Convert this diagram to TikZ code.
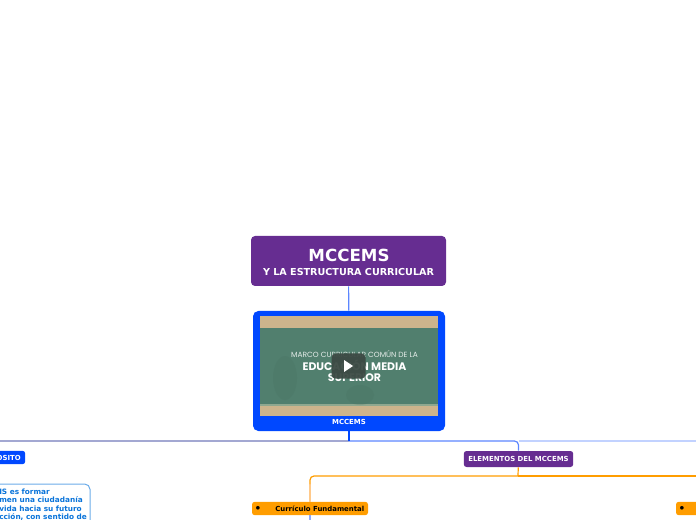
\documentclass[tikz,border=0pt]{standalone}
\usepackage{fontspec}
\setmainfont{DejaVu Sans}
\newfontfamily\videofont{Poppins}
\usetikzlibrary{arrows}
\definecolor{mapurple}{HTML}{662D91}
\definecolor{mablue}{HTML}{0048FF}
\definecolor{maorange}{HTML}{FF9D00}
\definecolor{matan}{HTML}{CDB48C}
\definecolor{magreen}{HTML}{517F6E}
\definecolor{mastrip}{HTML}{8FA88F}
\definecolor{madark}{HTML}{3C4A44}
\definecolor{maline}{HTML}{5C86FF}
\definecolor{malineb}{HTML}{C2D2FF}
\definecolor{malinec}{HTML}{A3A8D2}
\definecolor{malined}{HTML}{FFC98A}
\definecolor{mabox}{HTML}{0A74DA}
\tikzset{
  pill/.style={rounded corners=2pt,inner sep=0pt,font=\bfseries},
  conn/.style={line width=0.9pt},
}
\begin{document}
\begin{tikzpicture}[x=0.75pt,y=-0.75pt]
        \useasboundingbox (0,0) rectangle (696,520);
        \clip (0,0) rectangle (696,520);

        \node[pill,fill=mapurple,minimum width=146.25pt,minimum height=37.5pt,rounded corners=3pt] (T) at (348.5,261) {};
        \node[text=white,font=\bfseries\fontsize{12.5}{15}\selectfont] (T1) at (349,255) {MCCEMS};
        \node[text=white,font=\bfseries\fontsize{7.2}{9}\selectfont] (T2) at (348.5,272.5) {Y LA ESTRUCTURA CURRICULAR};

        \node[pill,fill=mablue,minimum width=144pt,minimum height=90pt,rounded corners=4pt] (V) at (349,371) {};
        \fill[matan] (260,316) rectangle (437.5,416);
        \fill[magreen] (260,328) rectangle (437.5,404);
        \fill[mastrip] (260,404) rectangle (437.5,406);
        \fill[magreen!85!black,opacity=.2] (285,378) ellipse (12 and 22);
        \fill[magreen!85!black,opacity=.2] (360,395) ellipse (14 and 10);
        \node[text=white!85!magreen,font=\videofont\fontsize{5.6}{6}\selectfont] (V1) at (354.5,354) {MARCO CURRICULAR COMÚN DE LA};
        \node[text=white,font=\videofont\bfseries\fontsize{8.2}{9}\selectfont] (V2) at (354.5,365.5) {EDUCACIÓN MEDIA};
        \node[text=white,font=\videofont\bfseries\fontsize{8.2}{9}\selectfont] (V3) at (354.5,378) {SUPERIOR};
        \node[pill,fill=madark,opacity=.95,minimum width=25.5pt,minimum height=19pt,rounded corners=3pt] (P) at (348.5,366) {};
        \fill[white] (344,360) -- (353,366) -- (344,372) -- cycle;
        \node[text=white,font=\bfseries\fontsize{5.2}{6}\selectfont] (V4) at (349,421.5) {MCCEMS};

        \node[pill,fill=mablue,minimum width=40pt,minimum height=10pt] (A) at (-1.5,457.5) {};
        \node[anchor=east,inner sep=0pt,text=white,font=\bfseries\fontsize{5.2}{6}\selectfont] (A1) at (21,457.5) {OSITO};

        \node[draw=mabox!60!white,fill=white,line width=0.75pt,rounded corners=4pt,minimum width=97.5pt,minimum height=45pt] (B) at (25,514) {};
        \node[anchor=north west,inner sep=0pt,align=left,text=mabox,font=\bfseries\fontsize{5.5}{6.4}\selectfont] (B1) at (-1,488.5) {IS es formar\\men una ciudadanía\\vida hacia su futuro\\cción, con sentido de};

        \node[pill,fill=mapurple,minimum width=82pt,minimum height=12pt] (E) at (518.5,459) {};
        \node[text=white,font=\bfseries\fontsize{5.2}{6}\selectfont] (E1) at (518.5,459) {ELEMENTOS DEL MCCEMS};

        \node[pill,fill=maorange,minimum width=87pt,minimum height=10pt] (C) at (310,508.5) {};
        \node[font=\fontsize{3.6}{4}\selectfont] (C0) at (258,508.5) {●};
        \node[anchor=west,inner sep=0pt,font=\bfseries\fontsize{5.2}{6}\selectfont] (C1) at (275,508.5) {Currículo Fundamental};

        \node[pill,fill=maorange,minimum width=30pt,minimum height=10pt] (D) at (696,508.5) {};
        \node[font=\fontsize{3.6}{4}\selectfont] (D0) at (682,508.5) {●};

        \coordinate (J) at (349,441);
        \coordinate (L) at (0,441);
        \coordinate (R) at (696,441);
        \coordinate (K) at (518,476);
        \coordinate (M) at (696,476);
        \coordinate (N) at (310,520);

        \draw[conn,malinec] (J) -- (L);
        \draw[conn,malineb] (J -| E) -- (R);
        \draw[conn,maline,rounded corners=3pt] (J) -| (E);
        \draw[conn,mablue] (V) -- (J);
        \draw[conn,maline] (T) -- (V);
        \draw[conn,maorange] (E) -- (K);
        \draw[conn,maorange] (K) -- (M);
        \draw[conn,malined] (310,484) -- (C);
        \draw[conn,maorange,rounded corners=3pt] (K) -- (310,476) -- (310,484);
        \draw[conn,maline!70!white] (C) -- (N);
      \end{tikzpicture}
\end{document}
